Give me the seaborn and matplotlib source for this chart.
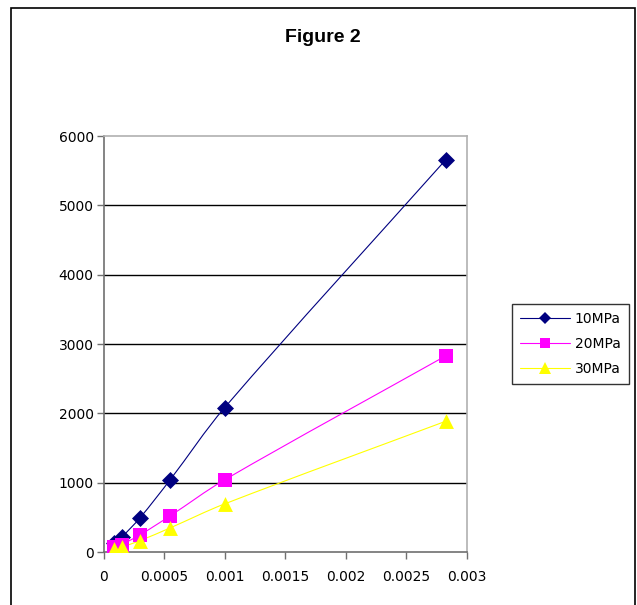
import numpy as np
import pandas as pd
import seaborn as sns
import matplotlib
matplotlib.use("Agg")
import matplotlib.pyplot as plt
from matplotlib.path import Path
from matplotlib.patches import PathPatch, Rectangle
from matplotlib.lines import Line2D

# Strain values shared by all three series
strain = [0.000087, 0.00015, 0.0003, 0.00055, 0.001, 0.00283]
# Measured response at each confining pressure
series_names = ["10MPa", "20MPa", "30MPa"]
values_10 = [130, 215, 490, 1040, 2080, 5660]
values_20 = [65, 108, 245, 520, 1040, 2830]
values_30 = [43, 72, 163, 347, 693, 1887]

x_ticks = [0, 0.0005, 0.001, 0.0015, 0.002, 0.0025, 0.003]
x_tick_labels = ["0", "0.0005", "0.001", "0.0015", "0.002", "0.0025", "0.003"]
y_ticks = [0, 1000, 2000, 3000, 4000, 5000, 6000]

colors = {"10MPa": "#000080", "20MPa": "#FF00FF", "30MPa": "#FFFF00"}
markers = {"10MPa": "D", "20MPa": "s", "30MPa": "^"}
msizes = {"10MPa": 75, "20MPa": 105, "30MPa": 115}

df = pd.DataFrame({
    "strain": strain * 3,
    "value": values_10 + values_20 + values_30,
    "series": [n for n in series_names for _ in strain],
})

sns.set_style("white")
plt.rcParams["font.family"] = ["DejaVu Sans"]
plt.rcParams["text.color"] = "black"

W, H = 637, 605
fig = plt.figure(figsize=(W / 100, H / 100), dpi=100)
fig.patch.set_facecolor("white")

# Outer chart frame
fig.patches.append(Rectangle((10.5 / W, -0.02), 624 / W, 1.02 - 7.5 / H,
                             transform=fig.transFigure, fill=False,
                             edgecolor="black", linewidth=1.2))

ax = fig.add_axes([103.5 / W, 1 - 552 / H, 363 / W, 416 / H])
ax.set_facecolor("white")
ax.set_xlim(0, 0.003)
ax.set_ylim(0, 6000)


def smooth_path(xs, ys):
    """Smoothed curve through the points (cubic Beziers built in screen space,
    tangents scaled to each segment's length)."""
    pts = ax.transData.transform(np.column_stack([xs, ys]).astype(float))
    n = len(pts)
    d = np.linalg.norm(np.diff(pts, axis=0), axis=1)
    tang = np.zeros_like(pts)
    for i in range(n):
        a = pts[i - 1] if i > 0 else pts[i]
        b = pts[i + 1] if i < n - 1 else pts[i]
        v = b - a
        tang[i] = v / np.linalg.norm(v)
    verts = [pts[0]]
    codes = [Path.MOVETO]
    for i in range(n - 1):
        c1 = pts[i] + tang[i] * d[i] / 3.0
        c2 = pts[i + 1] - tang[i + 1] * d[i] / 3.0
        verts += [c1, c2, pts[i + 1]]
        codes += [Path.CURVE4] * 3
    verts = ax.transData.inverted().transform(np.array(verts))
    return Path(verts, codes)


for name in series_names:
    sub = df[df["series"] == name]
    ax.add_patch(PathPatch(smooth_path(sub["strain"], sub["value"]),
                           fill=False, edgecolor=colors[name], linewidth=0.8,
                           zorder=3))

for name in series_names:
    sub = df[df["series"] == name]
    sns.scatterplot(data=sub, x="strain", y="value", ax=ax, marker=markers[name],
                    s=msizes[name], color=colors[name], edgecolor=colors[name],
                    linewidth=0, zorder=4, legend=False)

ax.set_xlim(0, 0.003)
ax.set_ylim(0, 6000)
ax.set_xticks(x_ticks)
ax.set_xticklabels(x_tick_labels)
ax.set_yticks(y_ticks)
ax.set_xlabel("")
ax.set_ylabel("")

for y in y_ticks[1:-1]:
    ax.axhline(y, color="black", linewidth=1.0, zorder=1)

for side in ["top", "right"]:
    ax.spines[side].set_color("#B0B0B0")
    ax.spines[side].set_linewidth(1.2)
for side in ["left", "bottom"]:
    ax.spines[side].set_color("#707070")
    ax.spines[side].set_linewidth(1.2)

ax.tick_params(axis="both", which="both", direction="out", length=5, width=1.0,
               color="#707070", labelsize=10, labelcolor="black", pad=2,
               bottom=True, left=True)
ax.tick_params(axis="x", pad=8)

fig.text(322.5 / W, 1 - 38 / H, "Figure 2", ha="center", va="center",
         fontsize=14, fontweight="bold", color="black",
         family=["Liberation Sans"])

handles = [Line2D([0], [0], color=colors[n], linewidth=0.8, marker=markers[n],
                  markersize={"10MPa": 6, "20MPa": 7, "30MPa": 8}[n],
                  markerfacecolor=colors[n], markeredgewidth=0)
           for n in series_names]
leg = fig.legend(handles, series_names, loc="center left",
                 bbox_to_anchor=(512 / W, 1 - 344 / H), frameon=True,
                 fancybox=False, edgecolor="black", fontsize=10,
                 handlelength=3.6, handletextpad=0.3, borderpad=0.6,
                 labelspacing=0.8, borderaxespad=0)
leg.get_frame().set_linewidth(1.0)
for t in leg.get_texts():
    t.set_color("black")

fig.savefig("out.png", dpi=100, facecolor="white")
